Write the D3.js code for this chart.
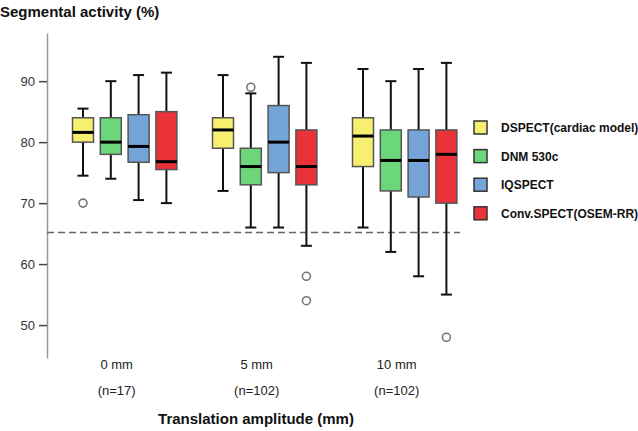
<!DOCTYPE html>
<html><head><meta charset="utf-8">
<script src="https://cdn.jsdelivr.net/npm/d3@7"></script>
<style>body{margin:0;background:#fff;} svg{display:block;font-family:"Liberation Sans",Arial,sans-serif;}</style>
</head><body>
<svg id="chart" width="638" height="431"></svg>
<script>
const groups = ["0 mm", "5 mm", "10 mm"];
const groupN = ["(n=17)", "(n=102)", "(n=102)"];
const series = ["DSPECT(cardiac model)", "DNM 530c", "IQSPECT", "Conv.SPECT(OSEM-RR)"];
const colors = ["#f7ef6f", "#6cd67b", "#74a4d8", "#ea3339"];
// [whisker low, Q1, median, Q3, whisker high] per group, per series
const dspect = [[74.5, 80, 81.6, 84, 85.5], [72, 79, 82, 84, 91], [66, 76, 81, 84, 92]];
const dnm = [[74, 78, 80, 84, 90], [66, 73, 76, 79, 88], [62, 72, 77, 82, 90]];
const iqspect = [[70.5, 76.7, 79.3, 84.5, 91], [66, 75, 80, 86, 94], [58, 71, 77, 82, 92]];
const conv = [[70, 75.5, 76.8, 85, 91.4], [63, 73, 76, 82, 93], [55, 70, 78, 82, 93]];
const stats = [dspect, dnm, iqspect, conv];
// outliers: [group index, series index, value]
const outliers = [[0, 0, 70], [1, 1, 89], [1, 3, 58], [1, 3, 54], [2, 3, 48]];
const yTicks = [50, 60, 70, 80, 90];
const refLine = 65.2;

const svg = d3.select("#chart");
const y = d3.scaleLinear().domain([44.6, 97.9]).range([358, 33]);
const x = d3.scaleBand().domain(groups).range([54.7, 474.7]).padding(0);
const xs = d3.scaleBand().domain(series).range([-55.6, 55.6]).padding(0);
const bw = 21, capW = 11;

// y axis
const axis = d3.axisLeft(y).tickValues(yTicks).tickSize(8).tickPadding(4).tickSizeOuter(0);
const ag = svg.append("g").attr("transform", "translate(47,0)").call(axis);
ag.select(".domain").attr("stroke", "#999").attr("stroke-width", 1.5);
ag.selectAll(".tick line").attr("stroke", "#444").attr("stroke-width", 1.5);
ag.selectAll(".tick text").attr("fill", "#333").style("font-size", "13px");

// dashed reference line
svg.append("line").attr("x1", 47).attr("x2", 460).attr("y1", y(refLine)).attr("y2", y(refLine))
  .attr("stroke", "#666").attr("stroke-width", 1.5).attr("stroke-dasharray", "7,4");

// boxes
series.forEach((s, si) => {
  groups.forEach((g, gi) => {
    const [lo, q1, med, q3, hi] = stats[si][gi];
    const cx = x(g) + x.bandwidth() / 2 + xs(s) + xs.bandwidth() / 2;
    const gg = svg.append("g");
    gg.append("line").attr("x1", cx).attr("x2", cx).attr("y1", y(hi)).attr("y2", y(lo))
      .attr("stroke", "#111").attr("stroke-width", 2);
    gg.append("line").attr("x1", cx - capW / 2).attr("x2", cx + capW / 2).attr("y1", y(hi)).attr("y2", y(hi))
      .attr("stroke", "#111").attr("stroke-width", 2);
    gg.append("line").attr("x1", cx - capW / 2).attr("x2", cx + capW / 2).attr("y1", y(lo)).attr("y2", y(lo))
      .attr("stroke", "#111").attr("stroke-width", 2);
    gg.append("rect").attr("x", cx - bw / 2).attr("width", bw).attr("y", y(q3)).attr("height", y(q1) - y(q3))
      .attr("fill", colors[si]).attr("stroke", "#555").attr("stroke-width", 1.5);
    gg.append("line").attr("x1", cx - bw / 2).attr("x2", cx + bw / 2).attr("y1", y(med)).attr("y2", y(med))
      .attr("stroke", "#000").attr("stroke-width", 3);
  });
});

// outliers
outliers.forEach(([gi, si, v]) => {
  const cx = x(groups[gi]) + x.bandwidth() / 2 + xs(series[si]) + xs.bandwidth() / 2;
  svg.append("circle").attr("cx", cx).attr("cy", y(v)).attr("r", 4)
    .attr("fill", "#fff").attr("stroke", "#777").attr("stroke-width", 1.6);
});

// x labels
groups.forEach((g, gi) => {
  const cx = x(g) + x.bandwidth() / 2 - 8;
  svg.append("text").attr("x", cx).attr("y", 369).attr("text-anchor", "middle")
    .style("font-size", "13px").attr("fill", "#222").text(g);
  svg.append("text").attr("x", cx).attr("y", 395).attr("text-anchor", "middle")
    .style("font-size", "13px").attr("fill", "#222").text(groupN[gi]);
});

// titles
svg.append("text").attr("x", 0).attr("y", 17).style("font-size", "15px").style("font-weight", "bold")
  .attr("fill", "#111").text("Segmental activity (%)");
svg.append("text").attr("x", 256).attr("y", 424).attr("text-anchor", "middle")
  .style("font-size", "15px").style("font-weight", "bold").attr("fill", "#111").text("Translation amplitude (mm)");

// legend
const lg = svg.append("g").attr("transform", "translate(474,121)");
series.forEach((s, i) => {
  const r = lg.append("g").attr("transform", `translate(0,${i * 28.6})`);
  r.append("rect").attr("x", 0).attr("y", 0).attr("width", 13).attr("height", 13)
    .attr("fill", colors[i]).attr("stroke", "#333").attr("stroke-width", 1.5);
  r.append("text").attr("x", 27).attr("y", 11).style("font-size", "12px").style("font-weight", "bold")
    .attr("fill", "#111").text(s);
});
</script>
</body></html>
